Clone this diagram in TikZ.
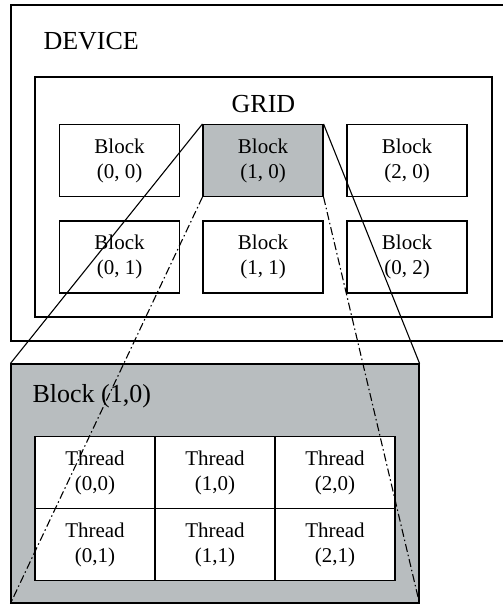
\documentclass[tikz,border=0pt]{standalone}
\usepackage{fontspec}
\setmainfont{Liberation Serif}
\definecolor{blockgray}{RGB}{184,189,191}
\begin{document}
\begin{tikzpicture}[x=1pt,y=-1pt,line width=1.1pt,
  cell/.style={draw,inner sep=0pt,minimum width=120pt,minimum height=72pt,align=center,font=\fontsize{21}{25}\selectfont},
  frame/.style={draw,inner sep=0pt},
  title/.style={font=\fontsize{26}{30}\selectfont,inner sep=0pt},
  dashdot/.style={dash pattern=on 8pt off 3pt on 1.5pt off 3pt}]
\useasboundingbox (0,0) rectangle (503,605);
% device and grid
\node[frame,minimum width=499pt,minimum height=336pt] (device) at (260.5,173) {};
\node[title,anchor=base west] (devlbl) at (43,49) {DEVICE};
\node[frame,minimum width=457pt,minimum height=240pt] (grid) at (263.5,197) {};
\node[title,anchor=base] (gridlbl) at (263.5,112) {GRID};
% blocks
\node[cell] (b00) at (119.5,160.5) {Block\\(0, 0)};
\node[cell,fill=blockgray] (b10) at (263,160.5) {Block\\(1, 0)};
\node[cell] (b20) at (407,160.5) {Block\\(2, 0)};
\node[cell] (b01) at (119.5,257) {Block\\(0, 1)};
\node[cell] (b11) at (263,257) {Block\\(1, 1)};
\node[cell] (b02) at (407,257) {Block\\(0, 2)};
% block (1,0) enlarged
\node[frame,fill=blockgray,minimum width=408pt,minimum height=239pt] (blk) at (215,483.5) {};
\node[title,anchor=base west] (blklbl) at (32,402) {Block (1,0)};
\node[cell,fill=white] (t00) at (95,472.5) {Thread\\(0,0)};
\node[cell,fill=white] (t10) at (215,472.5) {Thread\\(1,0)};
\node[cell,fill=white] (t20) at (335,472.5) {Thread\\(2,0)};
\node[cell,fill=white] (t01) at (95,544.5) {Thread\\(0,1)};
\node[cell,fill=white] (t11) at (215,544.5) {Thread\\(1,1)};
\node[cell,fill=white] (t21) at (335,544.5) {Thread\\(2,1)};
% zoom lines
\draw (b10.north west) -- (blk.north west);
\draw (b10.north east) -- (blk.north east);
\draw[dashdot] (b10.south west) -- (blk.south west);
\draw[dashdot] (b10.south east) -- (blk.south east);
\end{tikzpicture}
\end{document}
